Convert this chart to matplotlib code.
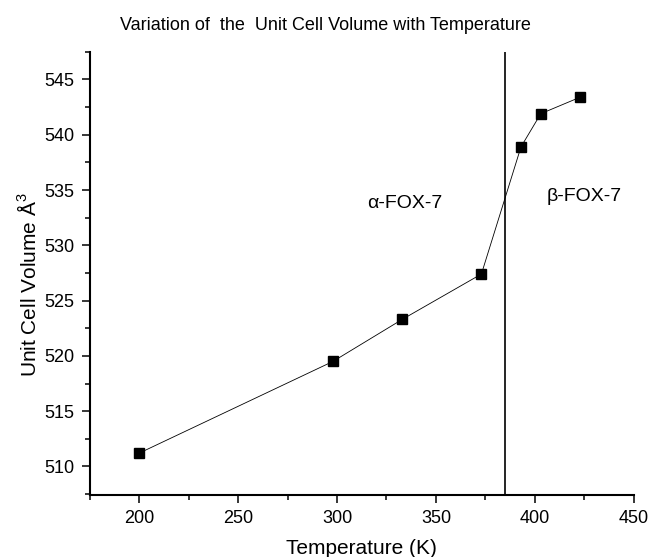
# Unit cell volume of FOX-7 versus temperature

import numpy as np
import matplotlib.pyplot as plt
from matplotlib.ticker import MultipleLocator

plt.rcParams['font.family'] = ['Liberation Sans', 'DejaVu Sans']
plt.rcParams['mathtext.fontset'] = 'custom'
plt.rcParams['mathtext.rm'] = 'Liberation Sans'

# Data
temperature = [200, 298, 333, 373, 393, 403, 423]
volume = [511.2, 519.5, 523.3, 527.4, 538.9, 541.9, 543.4]
transition_T = 385

fig = plt.figure(figsize=(6.5, 5.57), dpi=100)
ax = fig.add_axes([0.138, 0.111, 0.837, 0.796])

ax.plot(temperature, volume, color='black', linewidth=0.6,
        marker='s', markersize=7, markerfacecolor='black', markeredgecolor='black')
ax.axvline(transition_T, color='black', linewidth=1.2)

ax.text(334, 533.8, 'α-FOX-7', fontsize=14, ha='center', va='center')
ax.text(425, 534.4, 'β-FOX-7', fontsize=14, ha='center', va='center')

ax.set_xlim(175, 450)
ax.set_ylim(507.4, 547.5)
ax.xaxis.set_major_locator(MultipleLocator(50))
ax.xaxis.set_minor_locator(MultipleLocator(25))
ax.yaxis.set_major_locator(MultipleLocator(5))
ax.yaxis.set_minor_locator(MultipleLocator(2.5))
ax.tick_params(which='major', direction='out', length=6, width=1.1, labelsize=13, pad=5)
ax.tick_params(which='minor', direction='out', length=3.5, width=1.1)

ax.spines['top'].set_visible(False)
ax.spines['right'].set_visible(False)
ax.spines['left'].set_linewidth(1.5)
ax.spines['bottom'].set_linewidth(1.5)

ax.set_xlabel('Temperature (K)', fontsize=15)
ax.set_ylabel('Unit Cell Volume Å$^3$', fontsize=15)
ax.xaxis.set_label_coords(0.5, -0.098)
ax.yaxis.set_label_coords(-0.091, 0.474)
fig.suptitle('Variation of  the  Unit Cell Volume with Temperature', fontsize=13, y=0.97)

plt.savefig('out.png', dpi=100)
